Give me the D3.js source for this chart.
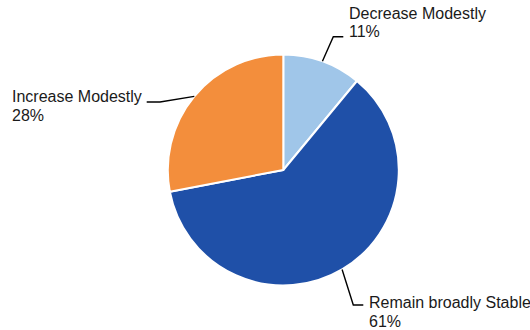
<!DOCTYPE html>
<html><head><meta charset="utf-8">
<script src="https://cdn.jsdelivr.net/npm/d3@7"></script>
<style>body{margin:0;background:#fff}svg{display:block}</style>
</head><body>
<svg id="chart" width="530" height="330"></svg>
<script>
const categories = ["Decrease Modestly", "Remain broadly Stable", "Increase Modestly"];
const values = [11, 61, 28];
const colors = ["#A0C6E9", "#1F50A8", "#F38E3C"];

// label layout (presentation only): text x, first-line baseline, leader horizontal y, text anchor
const labelLayout = [
  {tx: 349, ty: 18.5, ly: 36.7, anchor: "start"},
  {tx: 369, ty: 308.3, ly: 305, anchor: "start"},
  {tx: 12, ty: 102.3, ly: 102, anchor: "start", side: "left", textW: 130}
];

const svg = d3.select("#chart");
const cx = 283.3, cy = 170, r = 115.5;
const g = svg.append("g").attr("transform", `translate(${cx},${cy})`);
const pie = d3.pie().sort(null).value(d => d)(values);
const arc = d3.arc().innerRadius(0).outerRadius(r);

g.selectAll("path").data(pie).join("path")
  .attr("d", arc)
  .attr("fill", (d, i) => colors[i])
  .attr("stroke", "#fff").attr("stroke-width", 2).attr("stroke-linejoin", "round");

const font = "'Liberation Sans', Arial, Helvetica, sans-serif";
pie.forEach((d, i) => {
  const L = labelLayout[i];
  const mid = (d.startAngle + d.endAngle) / 2;
  const ex = cx + r * Math.sin(mid), ey = cy - r * Math.cos(mid);
  let endX, elbowX;
  if (L.side === "left") { endX = L.tx + L.textW + 4.7; elbowX = endX + 13.3; }
  else { endX = L.tx - 5.7; elbowX = endX - 10; }
  svg.append("polyline")
    .attr("points", `${ex},${ey} ${elbowX},${L.ly} ${endX},${L.ly}`)
    .attr("fill", "none").attr("stroke", "#000").attr("stroke-width", 1.4);
  const t = svg.append("text").attr("x", L.tx).attr("y", L.ty)
    .attr("font-family", font).attr("font-size", 16).attr("fill", "#1a1a1a")
    .attr("text-anchor", L.anchor);
  t.append("tspan").attr("x", L.tx).text(categories[i]);
  t.append("tspan").attr("x", L.tx).attr("dy", 18.5).text(values[i] + "%");
});
</script>
</body></html>
